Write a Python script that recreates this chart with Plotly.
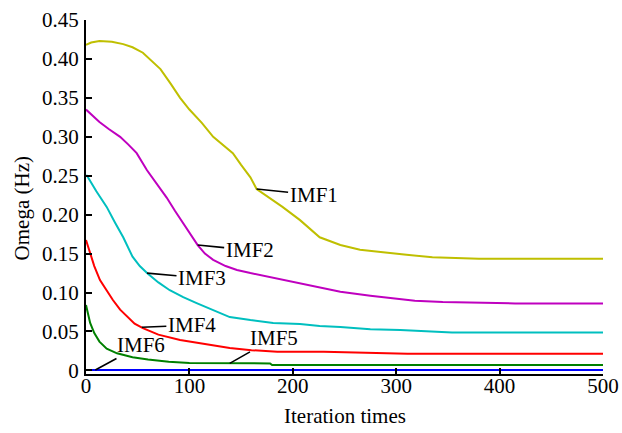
import plotly.graph_objects as go

# ---------------- data ----------------
imf1_x = [0, 5, 13, 25, 36, 45, 55, 63, 72, 82, 91, 100, 112, 123, 132, 142, 150, 159, 165, 175, 190, 207, 226, 246, 265, 285, 304, 310, 335, 380, 500]
imf1_y = [0.418, 0.421, 0.423, 0.422, 0.419, 0.415, 0.408, 0.398, 0.387, 0.368, 0.350, 0.335, 0.318, 0.300, 0.290, 0.279, 0.264, 0.248, 0.233, 0.224, 0.210, 0.193, 0.171, 0.161, 0.155, 0.152, 0.150, 0.1485, 0.1452, 0.1435, 0.1435]

imf2_x = [0, 6, 13, 22, 33, 41, 49, 59, 68, 78, 86, 94, 101, 108, 115, 123, 135, 146, 159, 188, 207, 226, 246, 275, 304, 318, 345, 415, 500]
imf2_y = [0.335, 0.327, 0.319, 0.310, 0.300, 0.290, 0.279, 0.257, 0.240, 0.222, 0.205, 0.189, 0.174, 0.161, 0.150, 0.142, 0.134, 0.129, 0.125, 0.117, 0.112, 0.106, 0.101, 0.096, 0.092, 0.0895, 0.0878, 0.086, 0.086]

imf3_x = [0, 1, 10, 20, 28, 36, 45, 52, 59, 70, 81, 94, 107, 120, 130, 139, 159, 181, 207, 226, 246, 275, 304, 354, 500]
imf3_y = [0.250, 0.250, 0.230, 0.210, 0.190, 0.171, 0.146, 0.134, 0.125, 0.113, 0.103, 0.094, 0.0865, 0.079, 0.0736, 0.0685, 0.0646, 0.061, 0.0595, 0.057, 0.0557, 0.053, 0.0518, 0.0488, 0.0488]

imf4_x = [0, 4, 8, 13.5, 20, 26, 33, 40, 47, 55, 70, 91, 110, 139, 160, 185, 230, 311, 500]
imf4_y = [0.1675, 0.150, 0.134, 0.116, 0.102, 0.0904, 0.078, 0.0685, 0.060, 0.0543, 0.046, 0.039, 0.0347, 0.0287, 0.026, 0.0239, 0.0239, 0.0214, 0.0214]

imf5_x = [0, 4, 8, 13, 20, 30, 45, 60, 80, 100, 178, 180, 500]
imf5_y = [0.084, 0.061, 0.048, 0.037, 0.028, 0.022, 0.017, 0.014, 0.011, 0.0095, 0.009, 0.0068, 0.0068]

imf6_x = [0, 500]
imf6_y = [0.0005, 0.0005]

names = ["IMF1", "IMF2", "IMF3", "IMF4", "IMF5", "IMF6"]
colors = ["#bfbf00", "#bf00bf", "#00bfbf", "#ff0000", "#008000", "#0000ff"]

# label anchor points on the curves (iteration, omega) and label offsets (px)
label_x = [165, 108, 59, 54, 139, 9]
label_y = [0.233, 0.161, 0.125, 0.0555, 0.009, 0.0005]
label_ax = [57, 52, 55, 50, 44, 46]
label_ay = [6, 5, 5, -2, -25, -25]

y_ticks = [0, 0.05, 0.10, 0.15, 0.20, 0.25, 0.30, 0.35, 0.40, 0.45]
y_ticktext = ["0", "0.05", "0.10", "0.15", "0.20", "0.25", "0.30", "0.35", "0.40", "0.45"]
x_ticks = [0, 100, 200, 300, 400, 500]

# ---------------- figure ----------------
FONT = "Liberation Serif, Times New Roman, serif"
FS = 21
fig = go.Figure()
series = [(imf1_x, imf1_y), (imf2_x, imf2_y), (imf3_x, imf3_y),
          (imf4_x, imf4_y), (imf5_x, imf5_y), (imf6_x, imf6_y)]
for (xs, ys), n, c in zip(series, names, colors):
    fig.add_trace(go.Scatter(x=xs, y=ys, mode="lines", name=n,
                             line=dict(color=c, width=2), showlegend=False))

for n, lx, ly, ax, ay in zip(names, label_x, label_y, label_ax, label_ay):
    fig.add_annotation(x=lx, y=ly, xref="x", yref="y", text=n,
                       showarrow=True, arrowhead=0, arrowwidth=1.6,
                       arrowcolor="black", ax=ax, ay=ay, standoff=0,
                       font=dict(family=FONT, size=FS, color="black"))

fig.add_annotation(text="Omega (Hz)", xref="paper", yref="paper",
                   x=-0.123, y=0.469, xanchor="center", yanchor="middle",
                   textangle=-90, showarrow=False,
                   font=dict(family=FONT, size=FS, color="black"))
fig.add_annotation(text="Iteration times", xref="paper", yref="paper",
                   x=0.5, y=-0.118, xanchor="center", yanchor="middle",
                   showarrow=False,
                   font=dict(family=FONT, size=FS, color="black"))

fig.update_layout(
    width=622, height=433,
    margin=dict(l=86, r=19, t=20, b=59),
    paper_bgcolor="white", plot_bgcolor="white",
    font=dict(family=FONT, size=FS, color="black"),
    xaxis=dict(range=[0, 500], tickvals=x_ticks, ticks="inside", ticklen=6,
               tickwidth=1.5, tickcolor="black", showline=True, linecolor="black",
               linewidth=2, showgrid=False, zeroline=False, automargin=False,
               ticklabelstandoff=-8,
               tickfont=dict(family=FONT, size=FS)),
    yaxis=dict(range=[-0.0046, 0.45], tickvals=y_ticks, ticktext=y_ticktext,
               ticks="inside", ticklen=6, tickwidth=1.5, tickcolor="black",
               showline=True, linecolor="black", linewidth=2, showgrid=False,
               zeroline=False, automargin=False, ticklabelstandoff=1,
               tickfont=dict(family=FONT, size=FS)),
)

fig.write_html("out.html", post_script="document.body.style.margin='0';",
               config={"displayModeBar": False})
